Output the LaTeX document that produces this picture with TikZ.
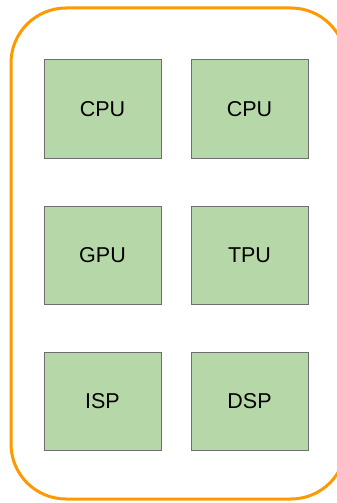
\documentclass[tikz,border=0pt]{standalone}
\usepackage{fontspec}
\setmainfont{Liberation Sans}
\definecolor{boxgreen}{HTML}{B6D7A8}
\definecolor{boxedge}{HTML}{6E6E6E}
\definecolor{frameorange}{HTML}{FF9900}
\begin{document}
\begin{tikzpicture}[x=1pt,y=-1pt,
  unit/.style={draw=boxedge, line width=1pt, fill=boxgreen, minimum width=117pt, minimum height=98pt, inner sep=0pt, font=\fontsize{21.5}{24}\selectfont, text=black}]
\useasboundingbox (0,0) rectangle (337,503);
\fill[white] (0,0) rectangle (337,503);
\begin{scope}
\clip (0,0) rectangle (337,503);
\draw[frameorange, line width=3pt, rounded corners=55pt] (11,8) rectangle (346,499);
\end{scope}
\node[unit] (cpu1) at (102.5,109) {CPU};
\node[unit] (cpu2) at (249.5,109) {CPU};
\node[unit] (gpu) at (102.5,255) {GPU};
\node[unit] (tpu) at (249.5,255) {TPU};
\node[unit] (isp) at (102.5,401) {ISP};
\node[unit] (dsp) at (249.5,401) {DSP};
\end{tikzpicture}
\end{document}
